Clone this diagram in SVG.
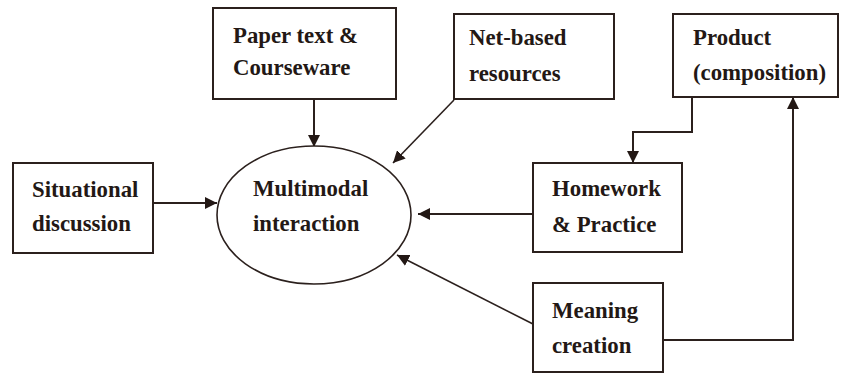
<svg xmlns="http://www.w3.org/2000/svg" width="844" height="374" viewBox="0 0 844 374">
<style>
.box{fill:#fff;stroke:#2b201d;stroke-width:2}
.ell{fill:#fff;stroke:#2b201d;stroke-width:1.6}
.t{font-family:"Liberation Serif","Times New Roman",serif;font-weight:bold;font-size:22.8px;fill:#231815}
.c{fill:none;stroke:#2b201d;stroke-width:2}
.d{fill:none;stroke:#2b201d;stroke-width:1.6}
</style>
<defs>
<marker id="ah" viewBox="0 0 12 12" refX="12" refY="6" markerWidth="12" markerHeight="12" markerUnits="userSpaceOnUse" orient="auto">
<path d="M0,0 L12,6 L0,12 Z" fill="#231815"/>
</marker>
</defs>
<rect width="844" height="374" fill="#fff"/>
<g id="connectors">
<path class="c" d="M314,99 V147" marker-end="url(#ah)"/>
<path class="d" d="M454,100 L393,163" marker-end="url(#ah)"/>
<path class="c" d="M692,97 V132 H633 V163" marker-end="url(#ah)"/>
<path class="c" d="M153,203 H217" marker-end="url(#ah)"/>
<path class="c" d="M533,214 H418" marker-end="url(#ah)"/>
<path class="d" d="M533,324 L397,255" marker-end="url(#ah)"/>
<path class="c" d="M663,340 H793 V97" marker-end="url(#ah)"/>
</g>
<g id="paper">
<rect class="box" x="213" y="8" width="183" height="91"/>
<text class="t" x="233" y="43">Paper text &amp;</text>
<text class="t" x="233" y="75">Courseware</text>
</g>
<g id="net">
<rect class="box" x="454" y="14" width="160" height="85"/>
<text class="t" x="469" y="45">Net-based</text>
<text class="t" x="469" y="81">resources</text>
</g>
<g id="product">
<rect class="box" x="673" y="14" width="165" height="83"/>
<text class="t" x="693" y="45">Product</text>
<text class="t" x="693" y="80">(composition)</text>
</g>
<g id="situational">
<rect class="box" x="13" y="163" width="140" height="90"/>
<text class="t" x="32" y="197">Situational</text>
<text class="t" x="32" y="231">discussion</text>
</g>
<g id="multimodal">
<ellipse class="ell" cx="314" cy="215" rx="97" ry="69"/>
<text class="t" x="253" y="196">Multimodal</text>
<text class="t" x="253" y="231">interaction</text>
</g>
<g id="homework">
<rect class="box" x="533" y="163" width="149" height="89"/>
<text class="t" x="552" y="196">Homework</text>
<text class="t" x="552" y="232">&amp; Practice</text>
</g>
<g id="meaning">
<rect class="box" x="533" y="283" width="130" height="89"/>
<text class="t" x="552" y="318">Meaning</text>
<text class="t" x="552" y="353">creation</text>
</g>
</svg>
